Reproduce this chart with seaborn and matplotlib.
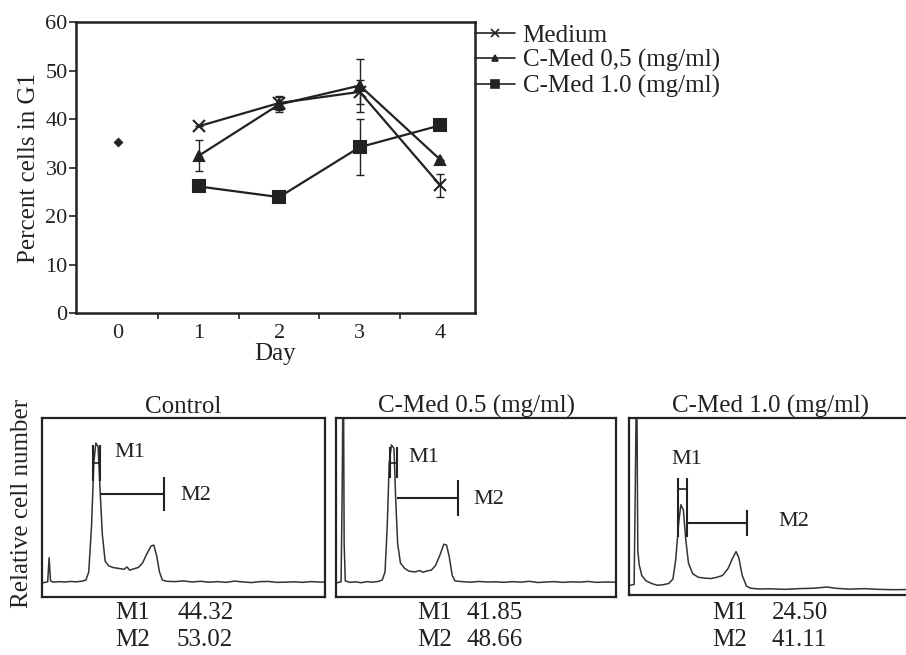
import numpy as np
import pandas as pd
import matplotlib
matplotlib.use("Agg")
import matplotlib.pyplot as plt
import seaborn as sns

# ---------------- data: top line chart ----------------
days = [1, 2, 3, 4]
medium = [38.5, 43.3, 45.6, 26.3]
medium_err = [0.0, 1.5, 2.5, 2.4]
cmed05 = [32.4, 43.0, 46.9, 31.6]
cmed05_err = [3.2, 1.5, 5.5, 0.0]
cmed10 = [26.1, 23.9, 34.2, 38.7]
cmed10_err = [0.0, 0.0, 5.7, 0.0]
day0_value = 35.3
series_labels = ["Medium", "C-Med 0,5 (mg/ml)", "C-Med 1.0 (mg/ml)"]
ytick_values = [0, 10, 20, 30, 40, 50, 60]
xtick_values = [0, 1, 2, 3, 4]

# ---------------- data: histogram traces (channel %, relative count %) ----------------
panel_titles = ["Control", "C-Med 0.5 (mg/ml)", "C-Med 1.0 (mg/ml)"]
m1_values = ["44.32", "41.85", "24.50"]
m2_values = ["53.02", "48.66", "41.11"]

ctrl_x = [0.5, 2.0, 2.5, 3.0, 4, 6, 8, 10, 12, 14, 15.5, 16.5, 17.5, 18.3, 19.0, 19.8,
          20.5, 21.3, 22.3, 23.5, 25, 27, 29, 30, 31, 32.5, 34, 35.5, 37, 38.5, 39.5,
          40.5, 41.5, 42.5, 44, 47, 50, 53, 56, 59, 62, 65, 68, 71, 74, 77, 80, 83, 86,
          89, 92, 95, 99.5]
ctrl_y = [8.0, 8.5, 22, 9, 8.3, 8.6, 8.4, 8.7, 8.5, 8.8, 9.5, 14, 40, 75, 86, 84,
          60, 35, 20, 17.5, 16.5, 16, 15.5, 16.8, 15, 15.8, 16.5, 19, 24, 28.5, 29,
          23, 14, 9.5, 8.8, 8.6, 9.0, 8.4, 8.8, 8.3, 8.6, 8.2, 8.9, 8.4, 8.1, 8.6, 8.7,
          8.2, 8.3, 8.5, 8.2, 8.6, 8.3]

med05_x = [0.5, 1.8, 2.2, 2.4, 2.7, 2.9, 3.3, 5, 7, 9, 11, 13, 15, 16.5, 17.5, 18.3,
           19.0, 19.8, 20.7, 21.3, 22.0, 23, 24.5, 26, 28, 30, 31, 32.5, 34, 35.5, 37,
           38.5, 39.5, 40.5, 41.5, 42.5, 45, 48, 51, 54, 57, 60, 63, 66, 69, 72, 75, 78,
           81, 84, 87, 90, 93, 96, 99.5]
med05_y = [8.0, 8.5, 60, 105, 105, 30, 9, 8.2, 8.5, 8.0, 8.6, 8.3, 8.7, 9.5, 14, 40,
           75, 85, 83, 55, 30, 19, 16, 14.5, 14, 14.8, 13.8, 14.6, 15, 17.5, 23,
           29.5, 29, 22, 12, 9, 8.6, 8.3, 8.7, 8.4, 8.5, 8.2, 8.6, 8.3, 8.8, 8.1, 8.4, 8.6,
           8.2, 8.5, 8.3, 8.7, 8.2, 8.4, 8.3]

med10_x = [0.5, 1.8, 2.2, 2.5, 2.8, 3.1, 3.6, 4.5, 6, 8, 10, 12, 14, 15.5, 16.5, 17.5,
           18.3, 19.2, 20, 21, 22.5, 24.5, 27, 29, 31, 33, 35, 36.5, 37.8, 38.8, 40,
           41.5, 43, 46, 50, 55, 60, 65, 70, 73, 78, 83, 88, 93, 99.5]
med10_y = [5.5, 6, 60, 105, 105, 25, 17, 11, 8, 6.5, 5.5, 5.8, 6.5, 9, 20, 40,
           51, 48, 32, 18, 12, 10, 9.5, 9.3, 10, 11, 15, 20.5, 24.5, 21, 11,
           5, 3.8, 3.4, 3.5, 3.2, 3.6, 3.8, 4.5, 3.8, 3.3, 3.6, 3.2, 3.0, 3.1]

# marker geometry (channel %, height %)
m1_left = [18.0, 19.3, 17.4]
m1_right = [20.6, 21.9, 20.6]
m1_top = [85, 83.6, 66]
m1_bottom = [65, 66.7, 33]
m1_text_xy = [(25.7, 81), (25.8, 78), (20.4, 76.5)]
m2_right = [43.0, 43.7, 41.6]
m2_level = [57.7, 55.5, 40.6]
m2_half = [9.5, 10, 7.5]
m2_text_xy = [(48.7, 56.8), (49, 54.5), (52.8, 41.5)]

traces = [(ctrl_x, ctrl_y), (med05_x, med05_y), (med10_x, med10_y)]

# ---------------- style ----------------
sns.set_theme(style="white")
plt.rcParams["font.family"] = ["Liberation Serif", "DejaVu Serif"]
ink = "#222222"

fig = plt.figure(figsize=(9.06, 6.55), dpi=100)

# ---------------- top chart ----------------
ax = fig.add_axes([0.0839, 0.5221, 0.4404, 0.4443])
df = pd.DataFrame({"Day": days * 3,
                   "value": medium + cmed05 + cmed10,
                   "err": medium_err + cmed05_err + cmed10_err,
                   "series": [series_labels[0]] * 4 + [series_labels[1]] * 4 + [series_labels[2]] * 4})
markers = ["x", "^", "s"]
msizes = [8, 7, 8]
handles = []
for lab, mk, ms in zip(series_labels, markers, msizes):
    sub = df[df["series"] == lab]
    sns.lineplot(data=sub, x="Day", y="value", ax=ax, color=ink, lw=1.6,
                 marker=mk, markersize=ms, markeredgecolor=ink, markeredgewidth=1.5,
                 estimator=None, legend=False)
    ax.errorbar(sub["Day"], sub["value"], yerr=sub["err"], fmt="none",
                ecolor=ink, elinewidth=1.0, capsize=3, capthick=1.0)
    h, = ax.plot([], [], color=ink, lw=1.2, marker=mk, markersize=ms * 0.7,
                 markeredgecolor=ink, markeredgewidth=1.2)
    handles.append(h)
sns.scatterplot(x=[0], y=[day0_value], ax=ax, marker="D", s=22, color=ink,
                edgecolor=ink, legend=False)

ax.set_xlim(-0.52, 4.43)
ax.set_ylim(0, 60)
ax.set_yticks(ytick_values)
ax.set_xticks(xtick_values)
ax.set_xticks([0.5, 1.5, 2.5, 3.5], minor=True)
ax.tick_params(axis="y", which="major", direction="out", length=5, width=1.2,
               labelsize=16, colors=ink, left=True, pad=1)
ax.tick_params(axis="x", which="major", length=0, labelsize=16, colors=ink, pad=8)
ax.tick_params(axis="x", which="minor", direction="out", length=4, width=1.2,
               bottom=True, colors=ink)
for s in ax.spines.values():
    s.set_color(ink)
    s.set_linewidth(1.8)
ax.set_ylabel("Percent cells in G1", fontsize=18, color=ink, labelpad=4)
ax.set_xlabel("Day", fontsize=18, color=ink, labelpad=0)
ax.grid(False)

fig.legend(handles, series_labels, loc="upper left",
           bbox_to_anchor=(0.505, 0.99), frameon=False, fontsize=18,
           handlelength=1.6, handletextpad=0.3, labelspacing=0.1,
           labelcolor=ink, borderpad=0.2)

# ---------------- bottom histograms ----------------
panel_rects = [[0.0464, 0.0885, 0.3124, 0.2733],
               [0.3709, 0.0885, 0.3090, 0.2733],
               [0.6943, 0.0916, 0.3124, 0.2702]]
text_x = [(115, 177), (417, 467), (712, 772)]

for i, rect in enumerate(panel_rects):
    pax = fig.add_axes(rect)
    tx, ty = traces[i]
    sns.lineplot(x=tx, y=ty, ax=pax, color="#333333", lw=1.1, estimator=None,
                 sort=False, legend=False)
    pax.set_xlim(0, 100)
    pax.set_ylim(0, 100)
    pax.set_xticks([])
    pax.set_yticks([])
    pax.set_xlabel("")
    pax.set_ylabel("")
    for s in pax.spines.values():
        s.set_color(ink)
        s.set_linewidth(1.6)
    pax.set_title(panel_titles[i], fontsize=18, color=ink, pad=3)
    # M1 bracket
    pax.vlines([m1_left[i], m1_right[i]], m1_bottom[i], m1_top[i], color=ink, lw=1.5)
    mid = (m1_top[i] + m1_bottom[i]) / 2 if i < 2 else 60
    pax.hlines(mid, m1_left[i], m1_right[i], color=ink, lw=1.2)
    pax.text(m1_text_xy[i][0], m1_text_xy[i][1], "M1", fontsize=16, color=ink,
             ha="left" if i < 2 else "center", va="center")
    # M2 bracket
    pax.hlines(m2_level[i], m1_right[i], m2_right[i], color=ink, lw=1.5)
    pax.vlines(m2_right[i], m2_level[i] - m2_half[i], m2_level[i] + m2_half[i],
               color=ink, lw=1.5)
    pax.text(m2_text_xy[i][0], m2_text_xy[i][1], "M2", fontsize=16, color=ink,
             ha="left", va="center")
    # values below panel
    for row, (lab, val) in enumerate([("M1", m1_values[i]), ("M2", m2_values[i])]):
        ypix = 613 + 27 * row
        fig.text(text_x[i][0] / 906, 1 - ypix / 655, lab, fontsize=18, color=ink,
                 ha="left", va="center")
        fig.text(text_x[i][1] / 906, 1 - ypix / 655, val, fontsize=18, color=ink,
                 ha="left", va="center")

fig.text(22 / 906, 1 - 503 / 655, "Relative cell number", rotation=90, fontsize=18,
         color=ink, ha="center", va="center")

fig.savefig("out.png", dpi=100, facecolor="white")
